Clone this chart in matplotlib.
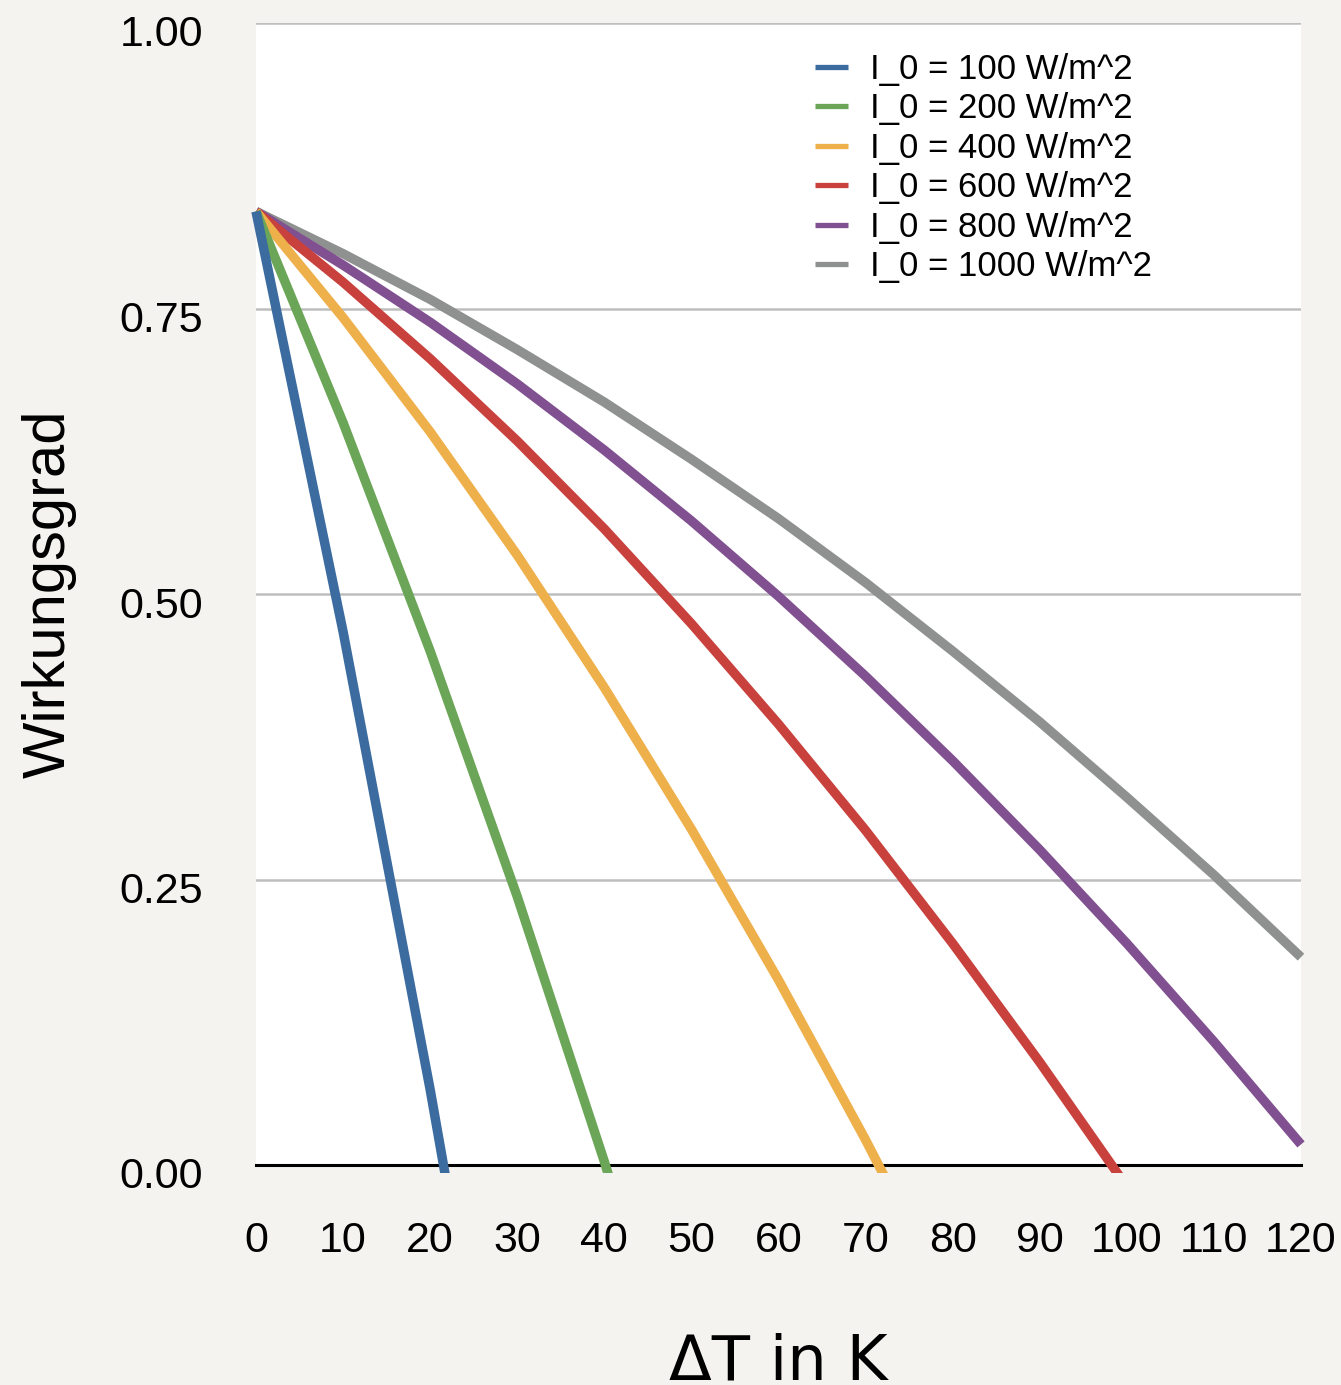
import matplotlib
matplotlib.use("Agg")
import matplotlib.pyplot as plt
from matplotlib.lines import Line2D
from matplotlib.patches import Rectangle
from matplotlib.transforms import ScaledTranslation

# Temperature difference between collector and ambient (K)
delta_t = [0, 10, 20, 30, 40, 50, 60, 70, 80, 90, 100, 110, 120]

# Collector efficiency per irradiance level
eta_100 = [0.835, 0.467, 0.066, -0.366]
eta_200 = [0.835, 0.650, 0.450, 0.235, 0.003, -0.245]
eta_400 = [0.835, 0.742, 0.642, 0.534, 0.418, 0.294, 0.162, 0.022, -0.126]
eta_600 = [0.835, 0.773, 0.706, 0.634, 0.557, 0.474, 0.386, 0.293, 0.194, 0.090, -0.019]
eta_800 = [0.835, 0.788, 0.738, 0.684, 0.626, 0.564, 0.498, 0.428, 0.354, 0.276, 0.194, 0.108, 0.018]
eta_1000 = [0.835, 0.798, 0.758, 0.714, 0.668, 0.618, 0.566, 0.510, 0.450, 0.388, 0.322, 0.254, 0.182]

series_labels = ["I_0 = 100 W/m^2", "I_0 = 200 W/m^2", "I_0 = 400 W/m^2",
                 "I_0 = 600 W/m^2", "I_0 = 800 W/m^2", "I_0 = 1000 W/m^2"]
series_values = [eta_100, eta_200, eta_400, eta_600, eta_800, eta_1000]
series_colors = ["#3B6B9F", "#6BA557", "#EEB04A", "#C9413D", "#805090", "#8F9190"]

x_ticks = [0, 10, 20, 30, 40, 50, 60, 70, 80, 90, 100, 110, 120]
y_ticks = [0.0, 0.25, 0.5, 0.75, 1.0]

bg = "#F4F3EF"
tick_font = "Liberation Sans"

fig = plt.figure(figsize=(13.41, 13.85), dpi=100, facecolor=bg)
ax = fig.add_axes([256 / 1341, 1 - 1165 / 1385, (1301 - 256) / 1341, (1165 - 23) / 1385])
ax.set_facecolor("white")

clip = Rectangle((-0.02, -0.007), 1.04, 1.03, transform=ax.transAxes,
                 facecolor="none", edgecolor="none")
ax.add_patch(clip)

n = len(series_values)
for i, (vals, col) in enumerate(zip(series_values, series_colors)):
    line, = ax.plot(delta_t[:len(vals)], vals, color=col, lw=6.8,
                    solid_capstyle="butt", solid_joinstyle="round",
                    zorder=10 + (n - i))
    line.set_clip_path(clip)

ax.set_xlim(0, 120)
ax.set_ylim(0, 1.0)
ax.set_xticks(x_ticks)
ax.set_yticks(y_ticks)
ax.set_xticklabels([str(v) for v in x_ticks])
ax.set_yticklabels([f"{v:.2f}" for v in y_ticks])

for s in ["top", "right", "left"]:
    ax.spines[s].set_visible(False)
ax.spines["bottom"].set_color("black")
ax.spines["bottom"].set_linewidth(2.2)
ax.spines["bottom"].set_zorder(5)

ax.yaxis.grid(True, color="#BEBEBE", lw=1.8)
ax.xaxis.grid(False)
ax.set_axisbelow(True)

ax.tick_params(axis="both", length=0, labelsize=31)
ax.tick_params(axis="y", pad=38)
ax.tick_params(axis="x", pad=40)
for lab in ax.get_xticklabels() + ax.get_yticklabels():
    lab.set_fontfamily(tick_font)
offset = ScaledTranslation(0, -8 / 100, fig.dpi_scale_trans)
for lab in ax.get_yticklabels():
    lab.set_transform(lab.get_transform() + offset)

ax.set_xlabel("ΔT in K", fontsize=45, fontfamily="DejaVu Sans", labelpad=52)
ax.set_ylabel("Wirkungsgrad", fontsize=43, fontfamily=tick_font, labelpad=31)

handles = [Line2D([], [], color=c, lw=3.8, solid_capstyle="butt") for c in series_colors]
leg = ax.legend(handles, series_labels, loc="upper left",
                bbox_to_anchor=(815 / 1341, 1 - 53 / 1385),
                bbox_transform=fig.transFigure,
                frameon=False, borderpad=0, borderaxespad=0,
                handlelength=0.95, handletextpad=0.63, labelspacing=0.185,
                prop={"family": tick_font, "size": 25})
leg.set_zorder(30)

fig.savefig("out.png", dpi=100, facecolor=bg)
